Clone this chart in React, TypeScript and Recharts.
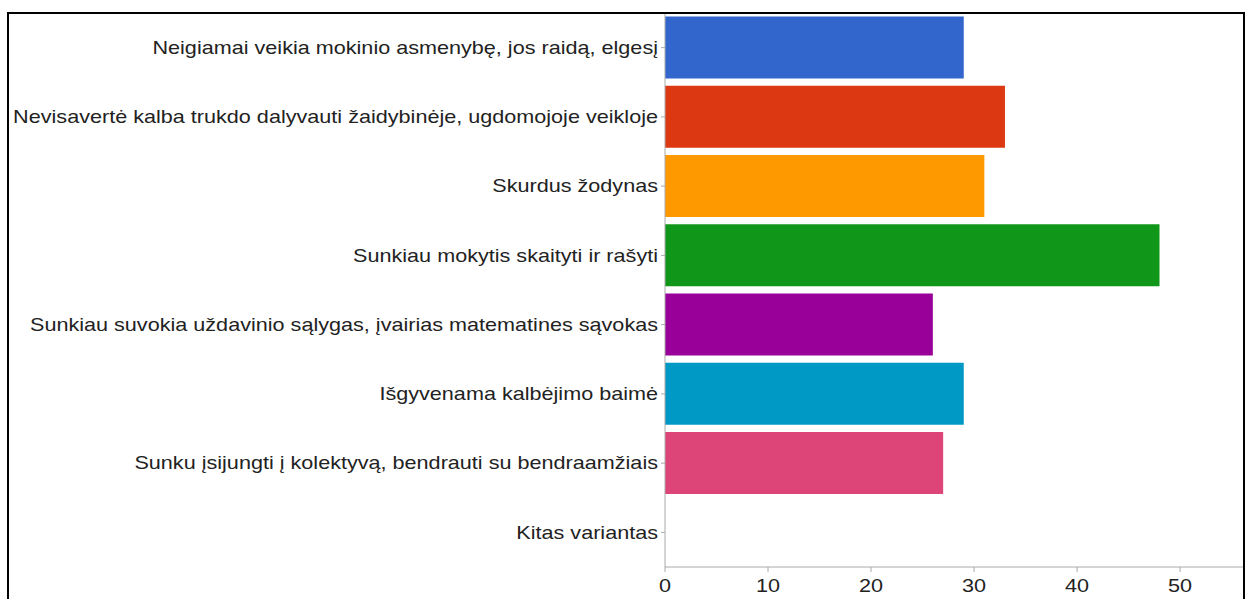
import { BarChart, Bar, XAxis, YAxis, Cell } from 'recharts';

const categories = [
  'Neigiamai veikia mokinio asmenybę, jos raidą, elgesį',
  'Nevisavertė kalba trukdo dalyvauti žaidybinėje, ugdomojoje veikloje',
  'Skurdus žodynas',
  'Sunkiau mokytis skaityti ir rašyti',
  'Sunkiau suvokia uždavinio sąlygas, įvairias matematines sąvokas',
  'Išgyvenama kalbėjimo baimė',
  'Sunku įsijungti į kolektyvą, bendrauti su bendraamžiais',
  'Kitas variantas',
];

const values = [29, 33, 31, 48, 26, 29, 27, 0];

const colors = ['#3366cc', '#dc3912', '#ff9900', '#109618', '#990099', '#0099c6', '#dd4477', '#66aa00'];

const xTicks = [0, 10, 20, 30, 40, 50];

const data = categories.map((name, i) => ({ name, value: values[i] }));

const font = '"Liberation Sans", Arial, sans-serif';
// the source image is stretched sideways a little
const stretch = 1.235;

function CategoryTick(props: any) {
  const { x, y, payload } = props;
  return (
    <g transform={`translate(${x},${y}) scale(${stretch},1)`}>
      <text x={0} y={0} dy="0.355em" textAnchor="end" fill="#222222" fontSize={17.5} fontFamily={font}>
        {payload.value}
      </text>
    </g>
  );
}

function ValueTick(props: any) {
  const { x, y, payload } = props;
  return (
    <g transform={`translate(${x},${y}) scale(${stretch},1)`}>
      <text x={0} y={0} dy="0.71em" textAnchor="middle" fill="#222222" fontSize={17.5} fontFamily={font}>
        {payload.value}
      </text>
    </g>
  );
}

export default function App() {
  return (
    <>
      <div style={{ position: 'absolute', left: 0, top: 0 }}>
        <BarChart
          width={1247}
          height={599}
          data={data}
          layout="vertical"
          margin={{ top: 13, right: 2, bottom: 0, left: 0 }}
          barCategoryGap="5%"
        >
          <XAxis
            type="number"
            domain={[0, 56.3]}
            ticks={xTicks}
            allowDataOverflow
            height={32}
            tickSize={5}
            tickMargin={8}
            stroke="#aaaaaa"
            tick={<ValueTick />}
          />
          <YAxis
            type="category"
            dataKey="name"
            width={665}
            tickSize={4}
            tickMargin={3}
            stroke="#aaaaaa"
            interval={0}
            tick={<CategoryTick />}
          />
          <Bar dataKey="value" isAnimationActive={false}>
            {data.map((d, i) => (
              <Cell key={d.name} fill={colors[i]} />
            ))}
          </Bar>
        </BarChart>
      </div>
      <div
        style={{
          position: 'absolute',
          left: 7,
          top: 12,
          width: 1238,
          height: 620,
          border: '2px solid #000',
          boxSizing: 'border-box',
          pointerEvents: 'none',
        }}
      />
    </>
  );
}
